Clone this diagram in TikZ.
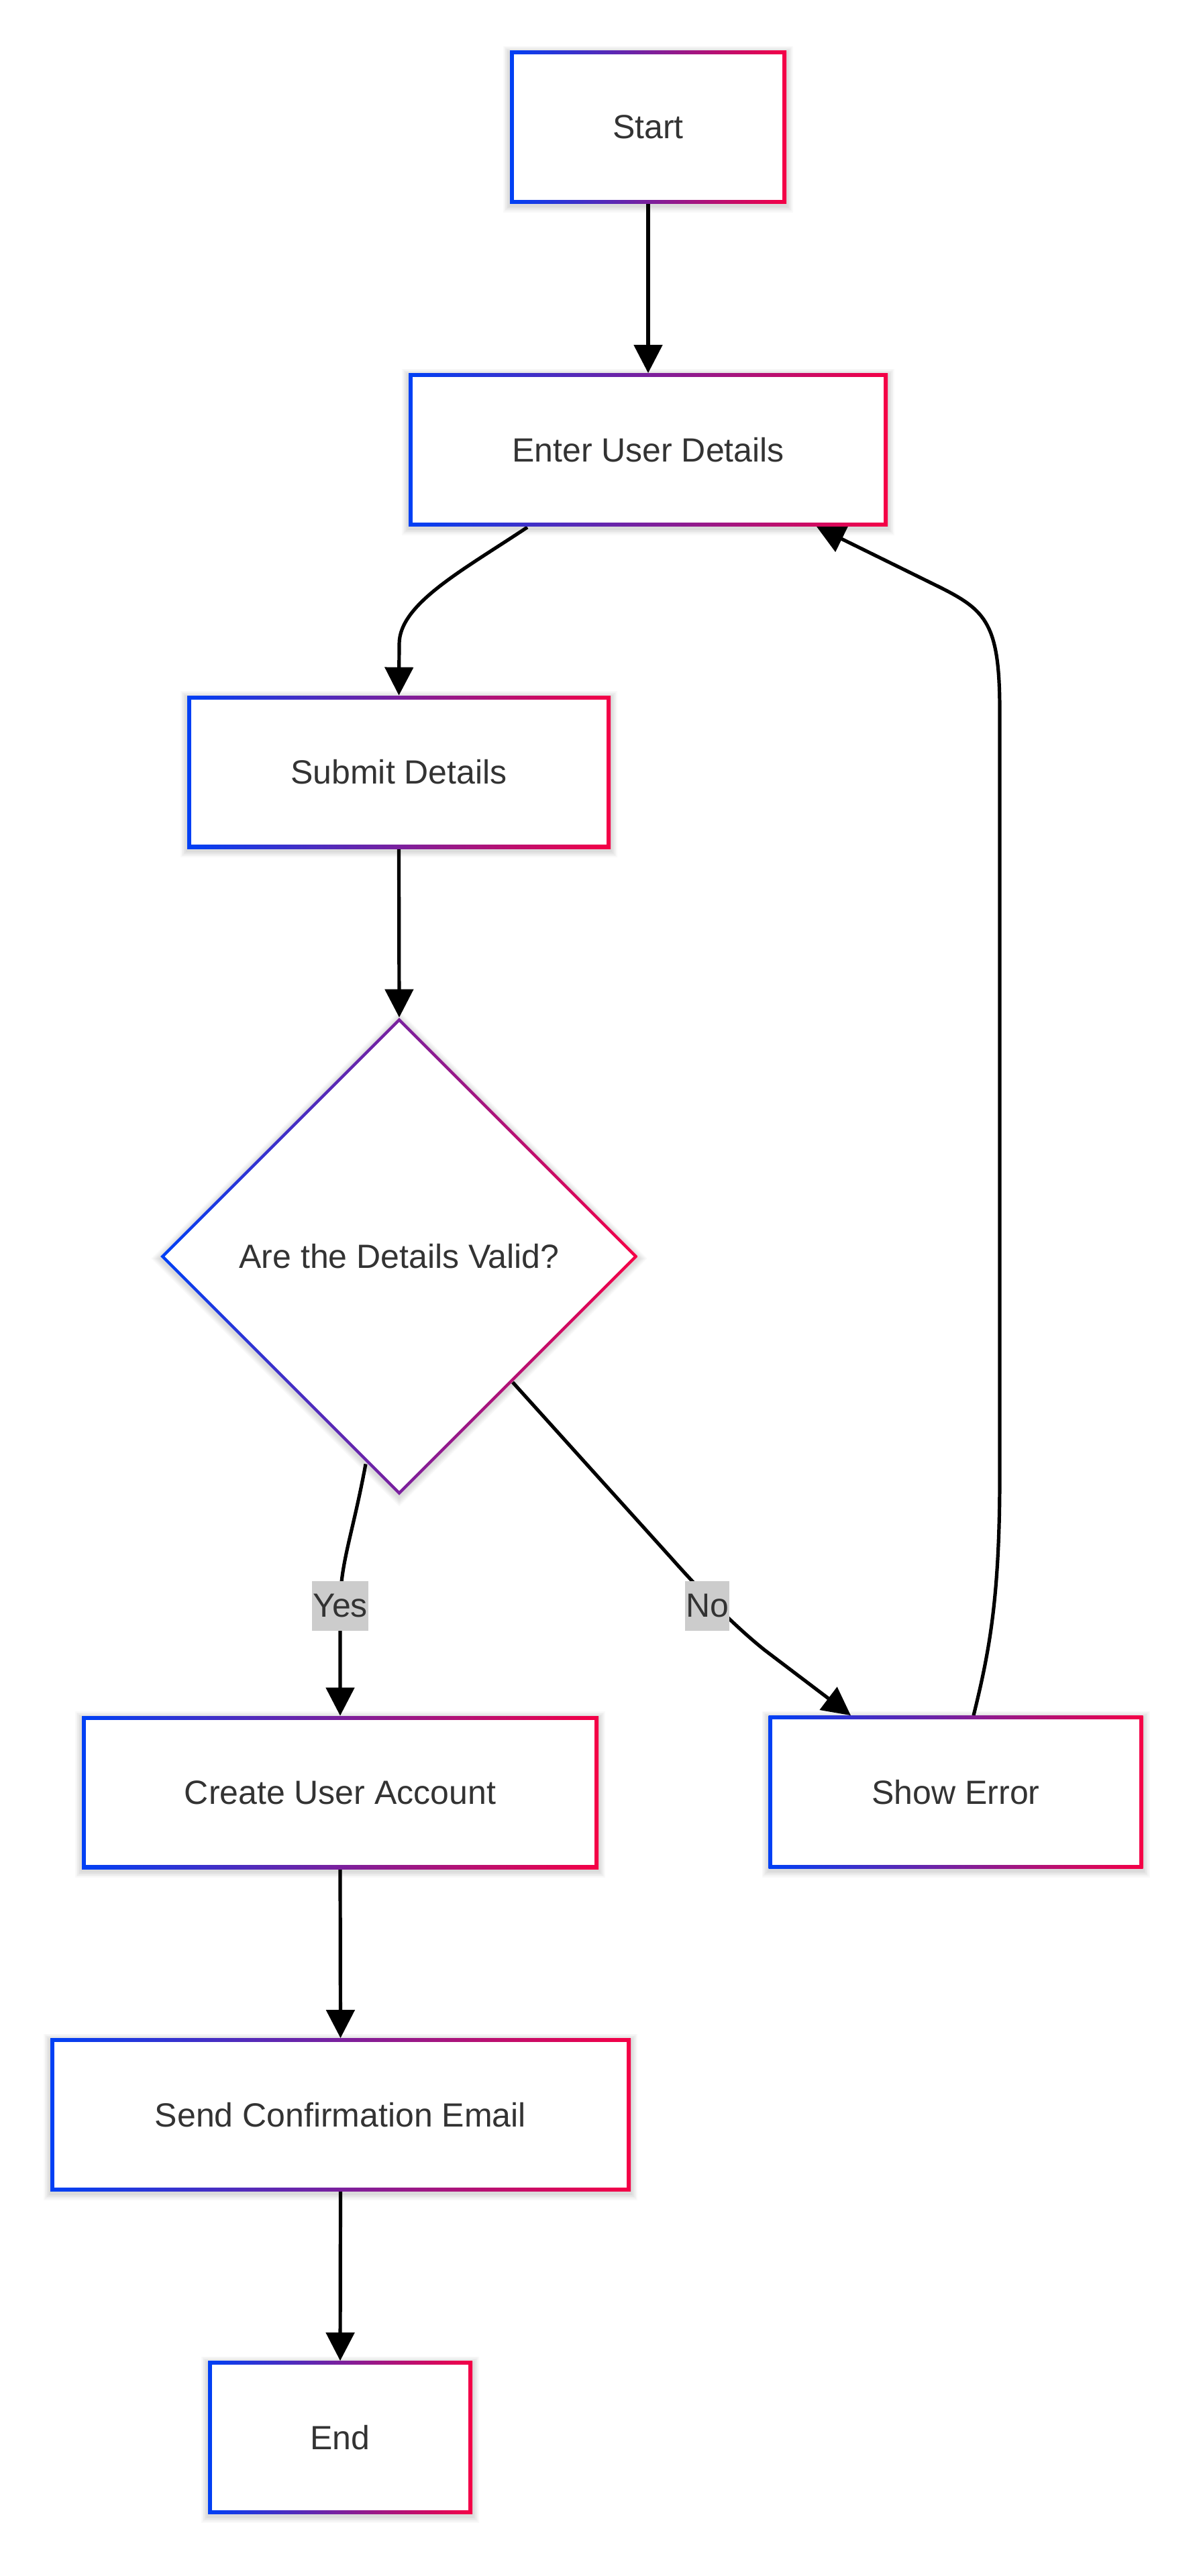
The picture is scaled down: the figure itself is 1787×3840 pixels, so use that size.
\documentclass[tikz,border=0pt]{standalone}
\usepackage{fontspec}
\setmainfont{Liberation Sans}
\usetikzlibrary{shapes.geometric,arrows.meta,calc}
\definecolor{gblue}{RGB}{0,64,245}
\definecolor{gred}{RGB}{245,0,70}
\definecolor{txt}{RGB}{51,51,51}
\definecolor{lblfill}{RGB}{204,204,204}
\pgfdeclarelayer{bg}
\pgfdeclarelayer{edges}
\pgfsetlayers{bg,edges,main}
\tikzset{
  basenode/.style={inner sep=0pt, fill=white, text=txt, font=\fontsize{25pt}{30pt}\selectfont},
  gradbox/.style={basenode, rectangle, minimum height=114pt,
     path picture={
       \shade[left color=gblue, right color=gred] (path picture bounding box.south west) rectangle (path picture bounding box.north east);
       \fill[white] ([shift={(2.8pt,2.8pt)}]path picture bounding box.south west) rectangle ([shift={(-2.8pt,-2.8pt)}]path picture bounding box.north east);
     }},
  graddiamond/.style={basenode, diamond, aspect=1, minimum width=356pt, minimum height=356pt,
     path picture={
       \shade[left color=gblue, right color=gred] (path picture bounding box.south west) rectangle (path picture bounding box.north east);
       \fill[white] ([yshift=-3.2pt]path picture bounding box.north) -- ([xshift=-3.2pt]path picture bounding box.east) -- ([yshift=3.2pt]path picture bounding box.south) -- ([xshift=3.2pt]path picture bounding box.west) -- cycle;
     }},
  conn/.style={draw=black, line width=2.6pt, -{Triangle[length=21pt,width=21pt]}},
  lbl/.style={fill=lblfill, text=txt, inner xsep=0.5pt, inner ysep=0pt, minimum height=37pt, font=\fontsize{25pt}{30pt}\selectfont},
  shadowfill/.style={fill=black, opacity=0.022},
}
\newcommand\mkshadow[1]{%
  \foreach \k in {1,...,6}{%
    \fill[shadowfill] ($(#1.south west)+(-\k*1.6,\k*1.6+3)$) rectangle ($(#1.north east)+(\k*1.6,-\k*1.6+3)$);
  }}
\begin{document}
\begin{tikzpicture}[x=0.5pt,y=-0.5pt]
\useasboundingbox (0,0) rectangle (1787,3840);

\node[gradbox, minimum width=206pt] (startn) at (966,189.5) {Start};
\node[gradbox, minimum width=357pt] (enter) at (966,670.5) {Enter User Details};
\node[gradbox, minimum width=315.5pt] (submit) at (594.5,1151) {Submit Details};
\node[graddiamond] (valid) at (595,1873) {Are the Details Valid?};
\node[gradbox, minimum width=385pt] (create) at (507,2672) {Create User Account};
\node[gradbox, minimum width=279pt] (error) at (1424.5,2671.5) {Show Error};
\node[gradbox, minimum width=432.5pt] (email) at (507.5,3152.5) {Send Confirmation Email};
\node[gradbox, minimum width=197pt] (finish) at (507,3633.5) {End};

\node[lbl] (yes) at (507,2394) {Yes};
\node[lbl] (no) at (1054,2394) {No};

\begin{pgfonlayer}{bg}
\fill[white] (0,0) rectangle (1787,3840);
\mkshadow{startn}
\mkshadow{enter}
\mkshadow{submit}
\mkshadow{create}
\mkshadow{error}
\mkshadow{email}
\mkshadow{finish}
\foreach \k in {1,...,6}{%
  \fill[shadowfill] ($(valid.north)+(0,-\k*2.2+3)$) -- ($(valid.east)+(\k*2.2,3)$) -- ($(valid.south)+(0,\k*2.2+3)$) -- ($(valid.west)+(-\k*2.2,3)$) -- cycle;
}
\end{pgfonlayer}

\begin{pgfonlayer}{edges}
\draw[conn] (startn.south) -- (enter.north);
\draw[conn] ($(enter.south)+(-180,1)$) .. controls (690,850) and (595,900) .. (595,960) -- (submit.north);
\draw[conn] (submit.south) -- (valid.north);
\draw[conn] ($(valid.south)+(-50,-47)$) .. controls (525,2290) and (507,2330) .. (yes.center) -- (create.north);
\draw[conn] ($(valid.south)+(169,-169)$) -- (1000,2322) .. controls (1040,2367) and (1090,2420) .. (1140,2460) -- ($(error.north)+(-156.5,0)$);
\draw[conn] ($(error.north)+(26.5,0)$) .. controls (1475,2460) and (1490,2380) .. (1490,2200) -- (1490,1060) .. controls (1490,930) and (1470,910) .. (1400,875) -- ($(enter.south)+(251,0)$);
\draw[conn] (create.south) -- (email.north);
\draw[conn] (email.south) -- (finish.north);
\end{pgfonlayer}
\end{tikzpicture}
\end{document}
